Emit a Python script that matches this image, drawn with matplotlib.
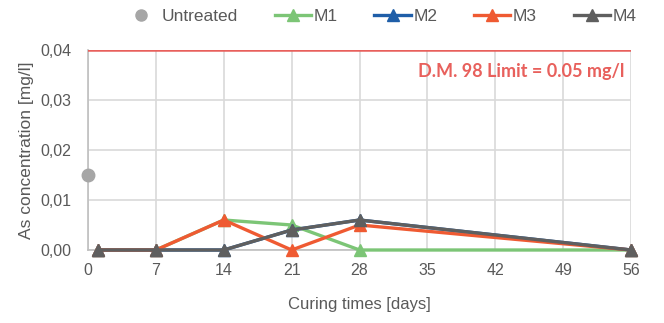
import matplotlib
matplotlib.use('Agg')
import matplotlib.pyplot as plt
from matplotlib.lines import Line2D

plt.rcParams['font.family'] = ['Liberation Sans', 'DejaVu Sans']

# data
days = [1, 7, 14, 21, 28, 56]
untreated_day = [0]
untreated = [0.015]
m1 = [0, 0, 0.006, 0.005, 0, 0]
m2 = [0, 0, 0, 0.004, 0.006, 0]   # fully hidden under M4 in the original
m3 = [0, 0, 0.006, 0, 0.005, 0]
m4 = [0, 0, 0, 0.004, 0.006, 0]
limit = 0.04
xticks = [0, 7, 14, 21, 28, 35, 42, 49, 56]
yticks = [0, 0.01, 0.02, 0.03, 0.04]

fig = plt.figure(figsize=(6.64, 3.23), dpi=100)
ax = fig.add_axes([0.1325, 0.226, 0.818, 0.619])

grid_c = '#d9d9d9'
ax.plot(untreated_day, untreated, 'o', color='#a6a6a6', ms=9, zorder=5,
        clip_on=False)
series = [(m1, '#7cc576', 'M1'), (m2, '#1f5ea8', 'M2'),
          (m3, '#ef5a32', 'M3'), (m4, '#5f5f5f', 'M4')]
for vals, c, lab in series:
    ax.plot(days, vals, '-^', color=c, lw=2.4, ms=9, clip_on=False, zorder=4)

ax.axhline(limit, color='#e8605c', lw=1.8, zorder=3)
ax.text(55.3, 0.0357, 'D.M. 98 Limit = 0.05 mg/l', color='#e8605c',
        fontsize=13, fontweight='bold', ha='right', va='center',
        family=['Lato', 'DejaVu Sans'])

ax.set_xlim(0, 56)
ax.set_ylim(0, 0.04)
ax.set_xticks(xticks)
ax.set_yticks(yticks)
ax.set_yticklabels([f'{v:.2f}'.replace('.', ',') for v in yticks])
ax.grid(True, color=grid_c, lw=1.2, zorder=0)
ax.set_axisbelow(True)
for s in ['top', 'right']:
    ax.spines[s].set_visible(False)
for s in ['left', 'bottom']:
    ax.spines[s].set_color('#bfbfbf')
    ax.spines[s].set_linewidth(1.2)
ax.tick_params(axis='y', length=0, labelsize=11.5, colors='#595959', pad=12)
ax.tick_params(axis='x', length=0, labelsize=11.5, colors='#595959', pad=9)

ax.set_xlabel('Curing times [days]', fontsize=12, color='#595959')
ax.xaxis.set_label_coords(0.5, -0.235)
ax.set_ylabel('As concentration [mg/l]', fontsize=12.5, color='#595959')
ax.yaxis.set_label_coords(-0.1, 0.5)

handles = [Line2D([], [], ls='none', marker='o', color='#a6a6a6', ms=8)]
for vals, c, lab in series:
    handles.append(Line2D([], [], color=c, lw=2.4, marker='^', ms=8))
fig.legend(handles, ['Untreated', 'M1', 'M2', 'M3', 'M4'], loc='upper center',
           bbox_to_anchor=(0.572, 1.02), ncol=5, frameon=False, fontsize=12.5,
           handlelength=2.1, columnspacing=2.1, handletextpad=0.15,
           labelcolor='#595959')

fig.savefig('out.png', dpi=100)
